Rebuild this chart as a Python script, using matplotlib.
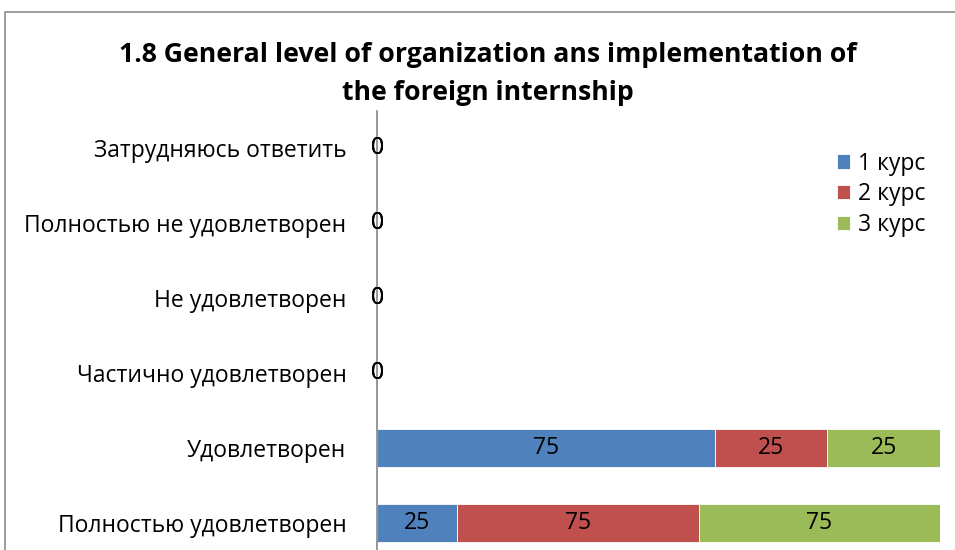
import numpy as np
import matplotlib

matplotlib.use("Agg")
import matplotlib.pyplot as plt
from matplotlib.patches import Rectangle

# categories listed bottom to top (as drawn on the y axis)
categories = [
    "Полностью удовлетворен",
    "Удовлетворен",
    "Частично удовлетворен",
    "Не удовлетворен",
    "Полностью не удовлетворен",
    "Затрудняюсь ответить",
]
series_names = ["1 курс", "2 курс", "3 курс"]
kurs1 = [25, 75, 0, 0, 0, 0]
kurs2 = [75, 25, 0, 0, 0, 0]
kurs3 = [75, 25, 0, 0, 0, 0]
colors = ["#4F81BD", "#C0504D", "#9BBB59"]

title = "1.8 General level of organization ans implementation of\nthe foreign internship"

plt.rcParams["font.family"] = ["Open Sans", "DejaVu Sans"]

fig = plt.figure(figsize=(9.55, 5.5), dpi=100)
ax = fig.add_axes([377 / 955, -10.5 / 550, 563 / 955, 450 / 550])

values = np.array([kurs1, kurs2, kurs3], dtype=float)
totals = values.sum(axis=0)
shares = np.divide(values, totals, out=np.zeros_like(values), where=totals > 0)

ys = np.arange(len(categories))
left = np.zeros(len(categories))
for name, raw, share, color in zip(series_names, values, shares, colors):
    ax.barh(ys, share, left=left, height=0.5, color=color, label=name,
            edgecolor="white", linewidth=0.6)
    for y, v, s, l in zip(ys, raw, share, left):
        ax.text(l + s / 2, y, f"{v:.0f}", ha="center", va="center", fontsize=16.5,
                color="black")
    left = left + share

ax.set_xlim(0, 1)
ax.set_ylim(-0.5, len(categories) - 0.5)
ax.set_yticks(ys)
ax.set_yticklabels(categories, fontsize=16.5)
ax.tick_params(axis="y", length=0, pad=22)
ax.set_xticks([])
for side in ("top", "right", "bottom"):
    ax.spines[side].set_visible(False)
ax.spines["left"].set_color("#868686")
ax.spines["left"].set_linewidth(1.2)

fig.text(488 / 955, 1 - 74 / 550, title, ha="center", va="center", fontsize=19.2,
         fontweight="bold", linespacing=1.62)

ax.legend(loc="upper left", bbox_to_anchor=(816 / 955, 1 - 131 / 550),
          bbox_transform=fig.transFigure, frameon=False, fontsize=16.5,
          handlelength=0.57, handleheight=0.57, handletextpad=0.35, labelspacing=0.3)

# chart-area border (cropped at right and bottom)
fig.patches.append(Rectangle((5 / 955, -0.1), 1.2, 1 - 12 / 550 + 0.1,
                             transform=fig.transFigure, fill=False,
                             edgecolor="#8c8c8c", linewidth=1.2))

fig.savefig("out.png", dpi=100)
